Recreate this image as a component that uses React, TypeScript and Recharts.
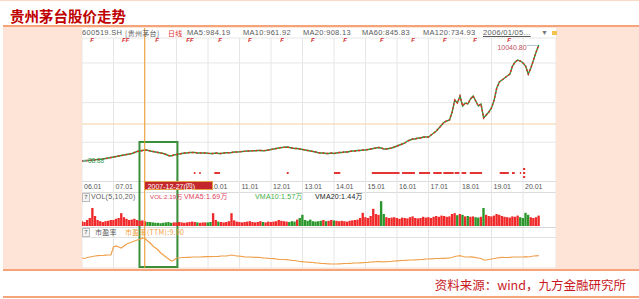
import React from 'react';
import {
  ComposedChart, Line, Bar, Cell, XAxis, YAxis, CartesianGrid,
  ReferenceLine, ReferenceArea, ReferenceDot,
} from 'recharts';

// ---------- data ----------
const startYear = 2006;
const yearTicks = [2006, 2007, 2008, 2009, 2010, 2011, 2012, 2013, 2014, 2015, 2016, 2017, 2018, 2019, 2020];
const yearTickLabels = ['06.01', '07.01', '08.01', '09.01', '10.01', '11.01', '12.01', '13.01', '14.01', '15.01', '16.01', '17.01', '18.01', '19.01', '20.01'];

// monthly close (back-adjusted), 2006-01 .. 2020-07
const priceClose = [
  89, 106, 132, 149, 175, 192, 218, 235, 261, 304, 346, 389,
  432, 475, 518, 561, 604, 647, 690, 733, 818, 904, 947, 990,
  1033, 1007, 947, 904, 861, 818, 775, 733, 647, 561, 518, 604,
  647, 690, 733, 775, 775, 818, 818, 818, 775, 775, 775, 775,
  750, 733, 733, 775, 733, 733, 775, 793, 801, 818, 861, 861,
  878, 904, 921, 947, 947, 964, 973, 990, 990, 973, 990, 1033,
  1076, 1119, 1162, 1204, 1247, 1265, 1290, 1247, 1204, 1162, 1162, 1119,
  1076, 1033, 990, 947, 904, 861, 801, 775, 775, 733, 733, 775,
  733, 775, 818, 818, 861, 861, 904, 947, 947, 990, 990, 1033,
  1033, 1076, 1119, 1162, 1204, 1247, 1204, 1119, 1119, 1162, 1204, 1290,
  1376, 1462, 1548, 1633, 1805, 1891, 1977, 1977, 2062, 2062, 2148, 2148,
  2148, 2320, 2491, 2663, 2920, 3178, 3435, 3521, 3607, 4293, 5323, 5065,
  5666, 4808, 5065, 4980, 5409, 5666, 5237, 4808, 4980, 3778, 4036, 4293,
  4636, 5323, 6352, 6867, 7039, 7210, 7382, 7554, 8240, 8583, 8755, 8669,
  8497, 8240, 7554, 8068, 8755, 9441, 10040.8,
];

// average daily volume, 万手
const volumeWan = [
  1.2, 1.0, 1.5, 2.0, 4.5, 2.5, 1.5, 1.2, 1.0, 1.2, 1.3, 1.5,
  1.5, 1.8, 2.0, 3.2, 2.2, 1.8, 1.5, 1.6, 1.8, 1.5, 1.3, 1.4,
  1.2, 1.0, 1.0, 0.9, 0.8, 0.8, 0.7, 0.8, 0.9, 1.0, 0.8, 0.9,
  0.9, 1.0, 0.9, 0.8, 0.9, 1.0, 1.1, 1.0, 0.9, 0.8, 0.9, 0.9,
  0.9, 1.0, 3.2, 1.5, 1.1, 1.0, 0.9, 1.0, 1.2, 3.2, 1.4, 1.1,
  1.0, 0.9, 1.0, 1.1, 1.2, 1.0, 0.9, 1.0, 1.2, 1.0, 0.9, 1.1,
  1.0, 1.1, 1.2, 1.5, 1.3, 1.2, 1.1, 1.0, 1.2, 1.1, 1.6, 2.0,
  2.8, 1.5, 1.3, 1.6, 1.2, 1.1, 1.2, 1.3, 1.5, 1.2, 1.3, 1.5,
  1.4, 1.3, 1.2, 1.3, 1.2, 1.1, 1.3, 1.4, 1.5, 1.6, 2.0, 3.3,
  2.2, 2.0, 2.5, 4.3, 3.0, 2.8, 6.2, 3.0, 2.2, 2.0, 2.1, 2.2,
  2.0, 1.8, 2.1, 2.0, 1.9, 2.2, 2.4, 2.0, 1.9, 2.0, 2.3, 2.1,
  2.2, 2.0, 2.3, 2.5, 2.3, 2.6, 2.5, 2.3, 2.4, 3.0, 3.2, 2.7,
  3.0, 2.8, 2.4, 2.5, 2.3, 2.4, 2.2, 2.1, 2.3, 4.5, 2.8, 2.5,
  2.4, 2.6, 3.0, 2.8, 2.5, 2.3, 2.2, 2.1, 2.4, 2.3, 2.6, 2.2,
  2.0, 3.3, 2.8, 2.2, 2.0, 2.2, 2.6,
];

// PE (TTM)
const peTTM = [
  27.8, 26.2, 29.3, 30.9, 32.4, 34.0, 34.9, 35.6, 35.6, 36.5, 37.1, 37.1,
  62.1, 65.3, 62.1, 59.0, 65.3, 71.5, 74.6, 77.8, 80.9, 84.0, 85.6, 90.3,
  88.7, 80.9, 74.6, 65.3, 59.0, 52.8, 43.4, 37.1, 30.9, 24.6, 18.4, 21.5,
  27.8, 27.8, 29.3, 29.3, 29.9, 29.9, 30.9, 30.9, 30.9, 30.9, 31.5, 31.8,
  31.8, 31.8, 32.4, 32.4, 33.1, 34.0, 34.0, 34.6, 35.6, 37.1, 35.6, 34.0,
  33.4, 32.4, 31.5, 30.9, 30.9, 30.3, 29.9, 29.9, 29.3, 28.4, 27.8, 26.8,
  26.2, 25.6, 24.6, 23.7, 23.1, 23.1, 22.4, 21.5, 20.6, 19.9, 18.4, 16.8,
  16.2, 15.3, 14.6, 14.3, 13.7, 12.8, 12.1, 11.2, 10.6, 9.9, 9.6, 9.0,
  9.0, 9.0, 9.6, 9.9, 10.6, 10.6, 11.2, 11.5, 12.1, 12.1, 12.8, 13.1,
  13.7, 14.3, 15.3, 15.9, 16.2, 16.8, 16.2, 15.9, 16.2, 16.8, 17.4, 18.4,
  19.0, 19.3, 19.9, 20.6, 20.9, 21.5, 21.5, 22.1, 22.4, 23.1, 23.7, 24.6,
  24.6, 25.3, 25.6, 26.2, 26.2, 26.8, 26.8, 27.1, 27.8, 29.3, 32.4, 34.0,
  34.9, 32.4, 30.9, 30.9, 31.5, 30.3, 28.7, 27.8, 26.2, 21.5, 21.5, 23.1,
  24.6, 26.2, 27.8, 28.7, 29.9, 29.3, 29.3, 29.9, 30.9, 30.9, 30.9, 30.9,
  30.9, 31.8, 30.9, 32.4, 34.0, 34.6, 34.9,
];

// dividend ("F") markers
const dividendDates = [2006.32, 2007.33, 2007.45, 2008.38, 2009.37, 2009.49, 2010.38, 2011.33, 2012.35, 2013.33, 2014.35, 2015.52, 2016.51, 2017.52, 2018.48, 2019.56];
// signal marks below the price
const signalRanges: [number, number][] = [
  [2009.55, 2009.6], [2009.72, 2009.77], [2010.2, 2010.38], [2012.5, 2012.56],
  [2014.0, 2014.2], [2015.2, 2016.08], [2016.16, 2016.57], [2016.7, 2017.05],
  [2017.15, 2017.42], [2017.47, 2017.8], [2017.83, 2017.98], [2018.05, 2018.2],
  [2018.31, 2018.7], [2019.26, 2019.55], [2019.65, 2019.74], [2019.9, 2019.94],
  [2020.0, 2020.07],
];
const crosshairDate = 2007.99;
const crosshairText = '2007-12-27(四)';
const crosshairLevel = 3264;
const highlightFrom = 2007.825;
const highlightTo = 2009.03;

const rows = priceClose.map((p, i) => ({
  t: startYear + i / 12,
  price: p,
  vol: volumeWan[i],
  pe: peTTM[i],
  up: i === 0 || p >= priceClose[i - 1],
}));
const first = rows[0];
const last = rows[rows.length - 1];

// ---------- styles ----------
const smallFont = "'Liberation Sans', 'Noto Sans CJK SC', sans-serif";
const cjk = "'Noto Sans CJK SC', sans-serif";

const DateTick = (props: any) => {
  const { x, payload } = props;
  const idx = yearTicks.indexOf(payload.value);
  // ticks hidden under the crosshair date box
  if (payload.value > crosshairDate - 0.05 && payload.value < crosshairDate + 2.0) return <g />;
  return (
    <text x={x + 2} y={158} fontSize={7} fill="#555" fontFamily={smallFont} dominantBaseline="central">
      {yearTickLabels[idx]}
    </text>
  );
};

const StartLabel = (props: any) => {
  const { viewBox } = props;
  const x = viewBox.x;
  const y = viewBox.y;
  return (
    <g>
      <line x1={x + 1} y1={y} x2={x + 6} y2={y} stroke="#7ab0a0" strokeWidth={0.8} />
      <path d={`M${x + 0.5},${y} l2.5,-1.6 v3.2 z`} fill="#7ab0a0" />
      <text x={x + 6} y={y} fontSize={6.5} fill="#3c9a5c" fontFamily={smallFont} dominantBaseline="central">88.88</text>
    </g>
  );
};

const EndLabel = (props: any) => {
  const { viewBox } = props;
  const x = viewBox.x;
  const y = viewBox.y;
  return (
    <g>
      <line x1={x - 12} y1={y + 0.5} x2={x - 1} y2={y + 0.5} stroke="#9bb8c8" strokeWidth={0.8} />
      <text x={x - 12} y={y + 2.5} fontSize={7} fill="#c05060" fontFamily={smallFont} textAnchor="end" dominantBaseline="central">10040.80</text>
    </g>
  );
};

const FShape = (props: any) => {
  const { cx, cy } = props;
  return (
    <text x={cx} y={cy} fontSize={6} fontWeight="bold" fontStyle="italic" fill="#d42a2a" fontFamily={smallFont} textAnchor="middle" dominantBaseline="central">F</text>
  );
};

const abs = (left: number, top: number, extra: React.CSSProperties = {}): React.CSSProperties => ({
  position: 'absolute', left, top, whiteSpace: 'nowrap', ...extra,
});

const hdr: React.CSSProperties = { fontFamily: smallFont, fontSize: 7.5, lineHeight: '8px', color: '#5a5a5a', letterSpacing: 0.3 };

const Box7 = ({ left, top }: { left: number; top: number }) => (
  <div style={abs(left, top, { width: 6, height: 7, border: '1px solid #bbb', fontFamily: smallFont, fontSize: 6, lineHeight: '7px', color: '#555', textAlign: 'center', background: '#f4f4f4' })}>7</div>
);

const chartW = 474;
const xDomain: [number, number] = [2006, 2021.0476];
const crossLeft = ((crosshairDate - xDomain[0]) / (xDomain[1] - xDomain[0])) * chartW;

export default function App() {
  return (
    <div style={{ position: 'absolute', left: 0, top: 0, width: 639, height: 299, background: '#fff', overflow: 'hidden' }}>
      {/* frame */}
      <div style={abs(0, 0, { width: 639, height: 1, background: '#fbd9c6' })} />
      <div style={abs(10, 8, { fontFamily: cjk, fontWeight: 700, fontSize: 14.5, lineHeight: '16px', color: '#c00000' })}>贵州茅台股价走势</div>
      <div style={abs(3, 25, { width: 636, height: 2, background: '#f4a478' })} />
      <div style={abs(3, 27, { width: 636, height: 242, background: '#fde4d7' })} />
      <div style={abs(3, 269, { width: 636, height: 2, background: '#f4a478' })} />
      <div style={abs(0, 278, { width: 626, textAlign: 'right', fontFamily: cjk, fontSize: 12.5, lineHeight: '14px', color: '#c8181e' })}>资料来源：wind，九方金融研究所</div>
      <div style={abs(3, 296, { width: 636, height: 2, background: '#f4a478' })} />

      {/* chart panel */}
      <div style={abs(82, 28, { width: chartW, height: 240, background: '#fff' })}>
        <div style={abs(0, 153, { width: chartW, height: 1, background: '#dcdcdc' })} />
        <div style={abs(0, 164, { width: chartW, height: 1, background: '#dcdcdc' })} />
        <div style={abs(0, 199, { width: chartW, height: 1, background: '#d6d6d6' })} />
        <div style={abs(0, 209, { width: chartW, height: 1, background: '#e2e2e2' })} />
        <div style={abs(0, 0, {})}>
          <ComposedChart width={chartW} height={240} data={rows} margin={{ top: 0, right: 0, bottom: 0, left: 0 }}>
            <CartesianGrid yAxisId="p" stroke="#e6e6e6" />
            <XAxis dataKey="t" type="number" orientation="top" height={10} domain={xDomain} ticks={yearTicks} interval={0} axisLine={false} tickLine={false} tick={<DateTick />} />
            <YAxis yAxisId="p" hide domain={[-9092, 10642]} ticks={[1700, 3400, 5100, 6800, 8500]} />
            <YAxis yAxisId="v" hide domain={[-10.5, 47]} />
            <YAxis yAxisId="e" hide domain={[-3.5, 715.25]} />

            <ReferenceLine yAxisId="p" y={crosshairLevel} stroke="#f6cfa6" strokeWidth={1.2} />
            {signalRanges.map(([a, b], i) => (
              <ReferenceArea key={'s' + i} yAxisId="p" x1={a} x2={b} y1={-1026} y2={-855} fill="#e53434" fillOpacity={1} stroke="none" />
            ))}
            <ReferenceArea yAxisId="p" x1={2020.0} x2={2020.07} y1={-683} y2={-512} fill="#e53434" fillOpacity={1} stroke="none" />
            <ReferenceArea yAxisId="p" x1={2020.0} x2={2020.07} y1={-1370} y2={-1198} fill="#e53434" fillOpacity={1} stroke="none" />

            <Bar yAxisId="v" dataKey="vol" barSize={3} isAnimationActive={false}>
              {rows.map((r, i) => (
                <Cell key={i} fill={r.up ? '#f02a2a' : '#2b962b'} />
              ))}
            </Bar>

            <Line yAxisId="p" dataKey="price" stroke="#2f9a3a" strokeWidth={1.4} dot={false} isAnimationActive={false} />
            <Line yAxisId="p" dataKey="price" stroke="#e62828" strokeWidth={1.4} strokeDasharray="2 2" dot={false} isAnimationActive={false} />
            <Line yAxisId="e" dataKey="pe" stroke="#f0a04c" strokeWidth={1.2} dot={false} isAnimationActive={false} />

            {dividendDates.map((d, i) => (
              <ReferenceDot key={'f' + i} yAxisId="p" x={d} y={10470} r={2} shape={<FShape />} ifOverflow="visible" />
            ))}

            <ReferenceLine yAxisId="p" segment={[{ x: crosshairDate, y: 11500 }, { x: crosshairDate, y: -9092 }]} stroke="#f0a030" strokeWidth={1} ifOverflow="visible" />
            <ReferenceArea yAxisId="p" x1={highlightFrom} x2={highlightTo} y1={-9006} y2={1719} fill="none" fillOpacity={0} stroke="#3b8f3b" strokeWidth={2} ifOverflow="visible" />
            <ReferenceDot yAxisId="p" x={first.t} y={first.price} r={0.1} fill="none" stroke="none" ifOverflow="visible" label={<StartLabel />} />
            <ReferenceDot yAxisId="p" x={last.t} y={last.price} r={0.1} fill="none" stroke="none" ifOverflow="visible" label={<EndLabel />} />
          </ComposedChart>
        </div>

        {/* crosshair date box */}
        <div style={abs(crossLeft - 1, 153, { width: 69, height: 9, background: '#c3262c', border: '0.6px solid #e8a048', color: '#fff', fontFamily: smallFont, fontSize: 7, lineHeight: '9px', paddingLeft: 3, boxSizing: 'border-box' as any })}>{crosshairText}</div>

        {/* header row */}
        <div style={abs(0, 1, { ...hdr })}>600519.SH</div>
        <div style={abs(43, 1, { ...hdr, fontFamily: cjk, fontSize: 7 })}>[贵州茅台]</div>
        <div style={abs(86, 1, { ...hdr, fontFamily: cjk, fontSize: 7, color: '#e03030' })}>日线</div>
        <div style={abs(105, 1, { ...hdr })}>MA5:984.19</div>
        <div style={abs(161, 1, { ...hdr })}>MA10:961.92</div>
        <div style={abs(221, 1, { ...hdr })}>MA20:908.13</div>
        <div style={abs(280, 1, { ...hdr })}>MA60:845.83</div>
        <div style={abs(341, 1, { ...hdr })}>MA120:734.93</div>
        <div style={abs(401, 1, { ...hdr, textDecoration: 'underline' })}>2006/01/05...</div>
        <div style={abs(459, 1, { ...hdr, color: '#777', fontSize: 7 })}>▼</div>
        <div style={abs(470, 3, { width: 5, height: 4, background: '#f2c14e' })} />

        {/* volume header */}
        <Box7 left={0} top={165} />
        <div style={abs(9, 165, { ...hdr, fontSize: 7, letterSpacing: 0.2 })}>VOL(5,10,20)</div>
        <div style={abs(68, 165, { ...hdr, fontSize: 6.2, letterSpacing: 0, color: '#e0405a' })}>VOL:2.19万</div>
        <div style={abs(102, 165, { ...hdr, fontSize: 7, letterSpacing: 0.2, color: '#e0405a' })}>VMA5:1.69万</div>
        <div style={abs(173, 165, { ...hdr, fontSize: 7, letterSpacing: 0.2, color: '#3fae3f' })}>VMA10:1.57万</div>
        <div style={abs(233, 165, { ...hdr, fontSize: 7, letterSpacing: 0.2, color: '#222' })}>VMA20:1.44万</div>

        {/* PE header */}
        <Box7 left={0} top={200} />
        <div style={abs(13, 199.5, { ...hdr, fontFamily: cjk, fontSize: 7 })}>市盈率</div>
        <div style={abs(43, 199.5, { ...hdr, fontFamily: cjk, fontSize: 7, color: '#f0a040' })}>市盈率(TTM):9.00</div>
      </div>
    </div>
  );
}
